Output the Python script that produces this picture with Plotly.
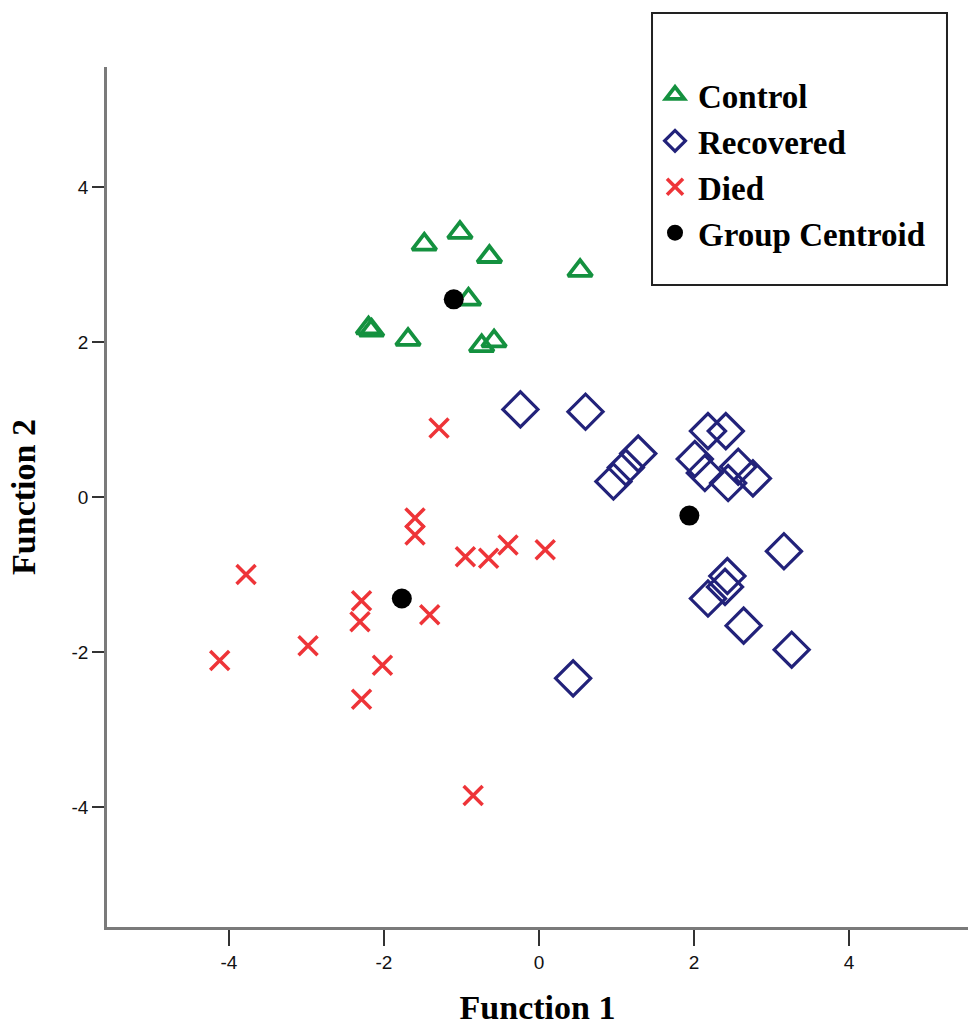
import plotly.graph_objects as go

# ---- data ----
control_x = [-1.48, -1.02, -0.64, 0.53, -0.91, -2.20, -2.16, -1.69, -0.74, -0.58]
control_y = [3.26, 3.41, 3.10, 2.92, 2.55, 2.18, 2.15, 2.03, 1.95, 2.01]

recovered_x = [-0.24, 0.60, 0.96, 1.12, 1.28, 2.18, 2.41, 2.01, 2.14, 2.44, 2.57, 2.76,
               3.16, 2.43, 2.40, 2.18, 2.64, 3.26, 0.44]
recovered_y = [1.13, 1.10, 0.20, 0.38, 0.56, 0.85, 0.85, 0.49, 0.31, 0.18, 0.39, 0.24,
               -0.70, -1.02, -1.16, -1.31, -1.66, -1.97, -2.34]

died_x = [-1.29, -1.60, -1.60, -0.95, -0.65, -0.40, 0.08, -3.78, -2.29, -2.31, -1.41,
          -2.98, -4.12, -2.02, -2.29, -0.85]
died_y = [0.89, -0.27, -0.49, -0.77, -0.79, -0.62, -0.68, -1.00, -1.34, -1.61, -1.52,
          -1.92, -2.11, -2.17, -2.61, -3.85]

centroid_x = [-1.10, 1.94, -1.77]
centroid_y = [2.55, -0.24, -1.31]

x_ticks = [-4, -2, 0, 2, 4]
y_ticks = [-4, -2, 0, 2, 4]

GREEN = "#14913f"
BLUE = "#22227a"
RED = "#ee3438"

fig = go.Figure()
fig.add_trace(go.Scatter(
    x=control_x, y=control_y, mode="markers", name="Control",
    marker=dict(symbol="triangle-up-open", size=21, color=GREEN,
                line=dict(width=3.8, color=GREEN))))
fig.add_trace(go.Scatter(
    x=recovered_x, y=recovered_y, mode="markers", name="Recovered",
    marker=dict(symbol="diamond-open", size=27, color=BLUE,
                line=dict(width=3.2, color=BLUE))))
fig.add_trace(go.Scatter(
    x=died_x, y=died_y, mode="markers", name="Died",
    marker=dict(symbol="x-thin-open", size=19, color=RED,
                line=dict(width=3.5, color=RED))))
fig.add_trace(go.Scatter(
    x=centroid_x, y=centroid_y, mode="markers", name="Group Centroid",
    marker=dict(symbol="circle", size=20, color="black",
                line=dict(width=0))))

serif = "Liberation Serif"

fig.update_layout(
    width=968, height=1026,
    margin=dict(l=107, r=0, t=67, b=99),
    paper_bgcolor="white", plot_bgcolor="white",
    showlegend=True,
    legend=dict(
        x=0.633, y=1.0, xref="paper", yref="paper",
        xanchor="left", yanchor="top",
        bgcolor="rgba(0,0,0,0)", borderwidth=0,
        font=dict(family=serif, size=33, color="black", weight="bold"),
        itemwidth=36,
        tracegroupgap=0,
    ),
    shapes=[dict(
        type="rect", xref="paper", yref="paper",
        x0=0.633, x1=0.9756, y0=0.7465, y1=1.0628,
        line=dict(color="#222222", width=2), fillcolor="rgba(0,0,0,0)")],
    xaxis=dict(
        range=[-5.574, 5.535], tickvals=x_ticks, ticktext=[str(v) for v in x_ticks],
        showgrid=False, zeroline=False, showline=True, linecolor="#7a7a7a",
        linewidth=2.5, ticks="outside", ticklen=16, tickwidth=2, tickcolor="#333333",
        tickfont=dict(family="Liberation Sans", size=19, color="#111111"),
        title=dict(text="Function 1", standoff=26,
                   font=dict(family=serif, size=34, color="black", weight="bold")),
        mirror=False, automargin=False,
    ),
    yaxis=dict(
        range=[-5.548, 5.548], tickvals=y_ticks, ticktext=[str(v) for v in y_ticks],
        showgrid=False, zeroline=False, showline=True, linecolor="#7a7a7a",
        linewidth=2.5, ticks="outside", ticklen=12, tickwidth=2, tickcolor="#333333",
        tickfont=dict(family="Liberation Sans", size=19, color="#111111"),
        title=dict(text="Function 2", standoff=26,
                   font=dict(family=serif, size=34, color="black", weight="bold")),
        mirror=False, automargin=False,
    ),
)

fig.write_html("out.html")
